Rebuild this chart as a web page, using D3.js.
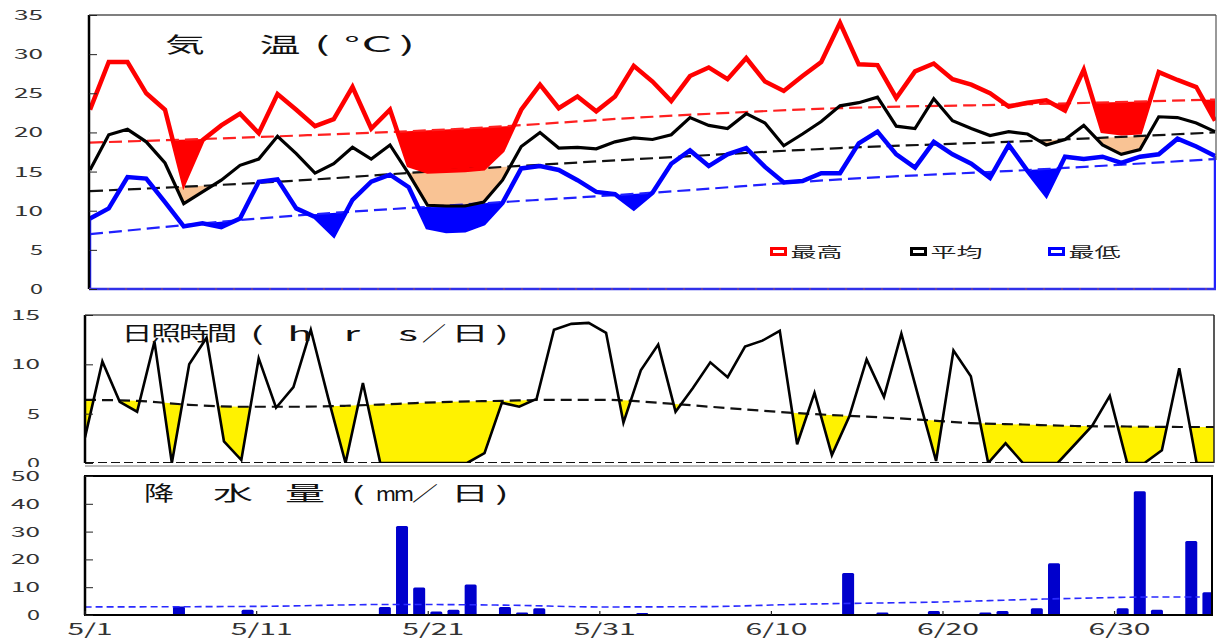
<!DOCTYPE html>
<html>
<head>
<meta charset="utf-8">
<script src="https://cdn.jsdelivr.net/npm/d3@7"></script>
<style>
  body { margin: 0; background: #fff; }
</style>
</head>
<body>
<svg id="chart" width="1217" height="640"></svg>
<script>
// values
// temperature panel: 61 days (5/1 - 6/30)
const maxT = [22.9, 29.0, 29.0, 25.0, 22.9, 13.5, 19.0, 20.9, 22.4, 19.9,
  24.9, 22.9, 20.8, 21.7, 25.8, 20.5, 22.9, 15.8, 15.0, 15.1,
  15.2, 15.4, 17.7, 22.9, 26.1, 23.1, 24.6, 22.7, 24.6, 28.5,
  26.5, 24.0, 27.2, 28.3, 26.8, 29.5, 26.5, 25.3, 27.2, 29.0,
  34.0, 28.7, 28.6, 24.4, 27.8, 28.8, 26.8, 26.1, 25.0, 23.3,
  23.8, 24.1, 22.8, 28.0, 20.2, 19.9, 20.0, 27.7, 26.7, 25.8, 21.5];
const meanT = [15.2, 19.7, 20.4, 18.8, 16.1, 10.9, 12.4, 13.9, 15.8, 16.6,
  19.5, 17.3, 14.8, 16.0, 18.1, 16.6, 18.4, 14.7, 10.7, 10.6,
  10.6, 11.1, 13.9, 18.2, 20.0, 18.0, 18.1, 17.9, 18.8, 19.3,
  19.1, 19.7, 21.9, 20.9, 20.5, 22.4, 21.2, 18.3, 19.8, 21.4,
  23.4, 23.8, 24.5, 20.8, 20.5, 24.3, 21.5, 20.5, 19.6, 20.1,
  19.8, 18.4, 19.1, 20.9, 18.4, 17.2, 17.8, 22.0, 21.9, 21.2, 20.1];
const minT = [9.0, 10.3, 14.3, 14.1, 11.1, 8.0, 8.4, 7.9, 9.0, 13.7,
  14.0, 10.3, 9.2, 6.9, 11.4, 13.7, 14.6, 13.0, 7.9, 7.4,
  7.5, 8.4, 11.0, 15.4, 15.7, 15.2, 13.9, 12.4, 12.1, 10.3,
  12.3, 16.0, 17.7, 15.7, 17.2, 18.0, 15.6, 13.6, 13.8, 14.8,
  14.8, 18.6, 20.1, 17.2, 15.5, 18.8, 17.2, 16.0, 14.2, 18.4,
  15.1, 12.0, 16.9, 16.6, 16.9, 16.1, 16.9, 17.2, 19.2, 18.2, 17.0];
const tNormDays = [0, 10, 20, 30, 40, 50, 60];
const normMax = [18.7, 19.5, 20.5, 22.0, 23.1, 23.6, 24.2];
const normMean = [12.5, 13.7, 15.3, 16.7, 18.0, 18.9, 20.0];
const normMin = [7.0, 9.2, 10.8, 12.3, 14.0, 15.2, 16.6];

// sunshine panel: 66 days
const sun = [2.6, 10.3, 6.2, 5.2, 12.3, 0, 10.0, 12.7, 2.2, 0.3,
  10.6, 5.6, 7.7, 13.5, 6.6, 0, 8.1, 0, 0, 0,
  0, 0, 0, 1.0, 6.1, 5.7, 6.5, 13.5, 14.1, 14.2,
  13.2, 4.1, 9.4, 12.0, 5.2, 7.6, 10.2, 8.7, 11.8, 12.4,
  13.4, 1.9, 7.1, 0.8, 4.7, 10.5, 6.7, 13.1, 6.6, 0.2,
  11.4, 8.8, 0, 2.0, 0, 0, 0, 1.9, 3.8, 6.8,
  0, 0, 1.3, 9.6, 0, 0];
const sunNormDays = [0, 3, 6, 9, 12, 15, 18, 21, 24, 27, 30, 33, 36, 39, 42, 45, 48, 51, 54, 57, 60, 63, 65];
const sunNorm = [6.4, 6.3, 5.9, 5.7, 5.7, 5.8, 6.0, 6.2, 6.3, 6.4, 6.4, 6.1, 5.7, 5.3, 4.95, 4.7, 4.4, 4.05, 3.9, 3.75, 3.7, 3.65, 3.65];

// precipitation panel: 66 days
const rain = [0, 0, 0, 0, 0, 3.1, 0, 0, 0, 1.9,
  0, 0, 0, 0, 0, 0, 0, 2.9, 32.0, 9.9,
  1.3, 1.9, 11.0, 0, 2.9, 0.9, 2.4, 0, 0, 0,
  0, 0, 0.7, 0, 0, 0, 0, 0, 0, 0,
  0, 0, 0, 0, 15.1, 0, 0.9, 0, 0, 1.4,
  0, 0, 0.9, 1.4, 0, 2.4, 18.6, 0, 0, 0,
  2.4, 44.5, 1.9, 0, 26.6, 8.2];
const rainNormDays = [0, 10, 18, 25, 30, 36, 42, 50, 57, 63, 65];
const rainNorm = [2.9, 3.1, 3.8, 3.5, 2.9, 3.0, 3.9, 4.7, 5.9, 6.5, 6.5];

const tickDays = [0, 10, 20, 30, 40, 50, 60];
const tickLabels = ["5/1", "5/11", "5/21", "5/31", "6/10", "6/20", "6/30"];
const tempTicks = [0, 5, 10, 15, 20, 25, 30, 35];
const sunTicks = [0, 5, 10, 15];
const rainTicks = [0, 10, 20, 30, 40, 50];
const legendItems = [
  { name: "最高", color: "#ff0000" },
  { name: "平均", color: "#000000" },
  { name: "最低", color: "#0000ff" },
];

const FONT = "'Noto Sans CJK JP', 'Noto Sans', sans-serif";
const svg = d3.select("#chart");
const defs = svg.append("defs");

// scales
const xT = d3.scaleLinear().domain([0, 60]).range([90, 1215]);
const yT = d3.scaleLinear().domain([0, 35]).range([289, 15]);
const xS = d3.scaleLinear().domain([0, 65]).range([85, 1214]);
const yS = d3.scaleLinear().domain([0, 15]).range([463, 315]);
const xR = d3.scaleLinear().domain([0, 66]).range([84.6, 1217]);
const yR = d3.scaleLinear().domain([0, 50]).range([615, 476]);

function panelClip(id, x0, y0, x1, y1) {
  defs.append("clipPath").attr("id", id)
    .append("rect").attr("x", x0).attr("y", y0).attr("width", x1 - x0).attr("height", y1 - y0);
}
panelClip("clipT", 89, 15, 1216, 289);
panelClip("clipS", 85, 315, 1214, 463);
panelClip("clipR", 85, 476, 1212, 615);

// area between a series and its normal, where the series is below it
function deficit(g, x, vals, y, nDays, nVals, color, id) {
  defs.append("clipPath").attr("id", id)
    .append("path")
    .attr("d", d3.area()
      .x((d, i) => x(nDays[i]))
      .y0(y(0))
      .y1(d => y(d))
      .curve(d3.curveMonotoneX)(nVals));
  g.append("path")
    .attr("clip-path", `url(#${id})`)
    .attr("fill", color)
    .attr("d", d3.area()
      .x((d, i) => x(i))
      .y0(y.range()[1])
      .y1(d => y(d))(vals));
}

function normalLine(g, x, y, nDays, nVals, color, width, dash) {
  g.append("path")
    .attr("fill", "none")
    .attr("stroke", color)
    .attr("stroke-width", width)
    .attr("stroke-dasharray", dash)
    .attr("d", d3.line()
      .x((d, i) => x(nDays[i]))
      .y(d => y(d))
      .curve(d3.curveMonotoneX)(nVals));
}

function seriesLine(g, x, y, vals, color, width) {
  g.append("path")
    .attr("fill", "none")
    .attr("stroke", color)
    .attr("stroke-width", width)
    .attr("stroke-linejoin", "miter")
    .attr("d", d3.line().x((d, i) => x(i)).y(d => y(d))(vals));
}

function yAxis(scale, ticks, xPos, labelRight) {
  const ax = svg.append("g")
    .attr("transform", `translate(${xPos},0)`)
    .call(d3.axisLeft(scale).tickValues(ticks).tickSizeInner(-8).tickSizeOuter(0).tickFormat(d3.format("d")));
  ax.select(".domain").remove();
  ax.selectAll(".tick line").attr("stroke", "#222").attr("stroke-width", 1);
  ax.selectAll(".tick text")
    .attr("x", labelRight - xPos)
    .attr("font-size", 14)
    .attr("font-family", FONT)
    .attr("fill", "#333")
    .attr("textLength", d => String(d).length === 1 ? 13 : 29)
    .attr("lengthAdjust", "spacingAndGlyphs");
  return ax;
}

function charRow(items, baseline, size) {
  items.forEach(([ch, cx, sx]) => {
    svg.append("text")
      .attr("transform", `translate(${cx},${baseline}) scale(${sx},1)`)
      .attr("text-anchor", "middle")
      .attr("font-size", size)
      .attr("font-family", FONT)
      .attr("fill", "#111")
      .text(ch);
  });
}

// ---------------- temperature ----------------
const gT = svg.append("g").attr("clip-path", "url(#clipT)");
deficit(gT, xT, maxT, yT, tNormDays, normMax, "#ff0000", "defMax");
deficit(gT, xT, meanT, yT, tNormDays, normMean, "#f9c394", "defMean");
deficit(gT, xT, minT, yT, tNormDays, normMin, "#0000ff", "defMin");
normalLine(gT, xT, yT, tNormDays, normMax, "#ff2020", 2.2, "13,6");
normalLine(gT, xT, yT, tNormDays, normMean, "#111", 2.2, "13,6");
normalLine(gT, xT, yT, tNormDays, normMin, "#2020ff", 2.2, "13,6");
seriesLine(gT, xT, yT, maxT, "#ff0000", 4.5);
seriesLine(gT, xT, yT, meanT, "#000", 3.2);
seriesLine(gT, xT, yT, minT, "#0000ff", 4.5);

// blue drop lines at both ends of the min series
[0, minT.length - 1].forEach(i => {
  gT.append("line")
    .attr("x1", xT(i)).attr("x2", xT(i))
    .attr("y1", yT(minT[i])).attr("y2", yT(0))
    .attr("stroke", "#2020ff").attr("stroke-width", 2.5);
});

// frame
svg.append("line").attr("x1", 89).attr("x2", 1216).attr("y1", 15).attr("y2", 15).attr("stroke", "#555").attr("stroke-width", 1.5);
svg.append("line").attr("x1", 1216).attr("x2", 1216).attr("y1", 15).attr("y2", 160).attr("stroke", "#555").attr("stroke-width", 1.2);
svg.append("line").attr("x1", 89).attr("x2", 89).attr("y1", 15).attr("y2", 289).attr("stroke", "#000").attr("stroke-width", 2.5);
svg.append("line").attr("x1", 89).attr("x2", 1216).attr("y1", 289).attr("y2", 289).attr("stroke", "#3030e8").attr("stroke-width", 2.5);
svg.append("line").attr("x1", 89).attr("x2", 1216).attr("y1", 289).attr("y2", 289).attr("stroke", "#a05050").attr("stroke-width", 1).attr("stroke-dasharray", "2,16");

yAxis(yT, tempTicks, 89, 43);

charRow([["気", 185, 1.9], ["温", 280, 1.95], ["(", 322, 2.2], ["°", 352, 2.0], ["C", 377, 2.3], [")", 407, 2.2]], 51.5, 21);

// legend
legendItems.forEach((d, i) => {
  const lx = [771.5, 911.5, 1049.5][i];
  svg.append("rect")
    .attr("x", lx).attr("y", 248.5).attr("width", 14).attr("height", 6)
    .attr("fill", "#fff").attr("stroke", d.color).attr("stroke-width", 3);
  svg.append("text")
    .attr("x", lx + 19).attr("y", 257)
    .attr("font-size", 14).attr("font-family", FONT).attr("fill", "#222")
    .attr("textLength", 52).attr("lengthAdjust", "spacingAndGlyphs")
    .text(d.name);
});

// ---------------- sunshine ----------------
const gS = svg.append("g").attr("clip-path", "url(#clipS)");
deficit(gS, xS, sun, yS, sunNormDays, sunNorm, "#fff200", "defSun");
normalLine(gS, xS, yS, sunNormDays, sunNorm, "#111", 2.2, "11,6");
gS.append("line").attr("x1", 85).attr("x2", 1214).attr("y1", yS(0)).attr("y2", yS(0))
  .attr("stroke", "#111").attr("stroke-width", 2).attr("stroke-dasharray", "9,4");
seriesLine(gS, xS, yS, sun, "#000", 2.6);

svg.append("line").attr("x1", 85).attr("x2", 1214).attr("y1", 315).attr("y2", 315).attr("stroke", "#555").attr("stroke-width", 1.5);
svg.append("line").attr("x1", 1214).attr("x2", 1214).attr("y1", 315).attr("y2", 463).attr("stroke", "#222").attr("stroke-width", 1.5);
svg.append("line").attr("x1", 85).attr("x2", 85).attr("y1", 315).attr("y2", 463).attr("stroke", "#000").attr("stroke-width", 2.5);

yAxis(yS, sunTicks, 85, 40);

charRow([["日", 137, 1.55], ["照", 166, 1.5], ["時", 194, 1.5], ["間", 222, 1.5],
  ["(", 257, 2.0], ["h", 300, 2.1], ["r", 352, 2.1], ["s", 408, 2.1],
  ["／", 434, 1.2], ["日", 470, 1.9], [")", 502, 2.0]], 341, 20);

// ---------------- precipitation ----------------
svg.append("rect").attr("x", 0).attr("y", 467).attr("width", 1217).attr("height", 173).attr("fill", "#fff");
svg.append("line").attr("x1", 85).attr("x2", 1214).attr("y1", 466).attr("y2", 466).attr("stroke", "#777").attr("stroke-width", 1);

const gR = svg.append("g").attr("clip-path", "url(#clipR)");
gR.selectAll("rect.bar")
  .data(rain.map((v, i) => ({ i, v })).filter(d => d.v > 0))
  .join("rect")
  .attr("class", "bar")
  .attr("x", d => xR(d.i + 0.5) - 6)
  .attr("width", 12)
  .attr("y", d => yR(d.v))
  .attr("height", d => yR(0) - yR(d.v))
  .attr("rx", 1.5)
  .attr("fill", "#0000cc");
gR.append("path")
  .attr("fill", "none")
  .attr("stroke", "#2a2aff")
  .attr("stroke-width", 1.6)
  .attr("stroke-dasharray", "7,4")
  .attr("d", d3.line()
    .x((d, i) => xR(rainNormDays[i]))
    .y(d => yR(d))
    .curve(d3.curveMonotoneX)(rainNorm));

svg.append("rect").attr("x", 85).attr("y", 476).attr("width", 1127).attr("height", 139)
  .attr("fill", "none").attr("stroke", "#000").attr("stroke-width", 2);
svg.append("line").attr("x1", 85).attr("x2", 85).attr("y1", 476).attr("y2", 615).attr("stroke", "#000").attr("stroke-width", 2.5);

yAxis(yR, rainTicks, 85, 40);

const xAx = svg.append("g")
  .attr("transform", "translate(0,615)")
  .call(d3.axisBottom(xR).tickValues(tickDays).tickSizeInner(-4).tickSizeOuter(0)
    .tickFormat((d, i) => tickLabels[i]));
xAx.select(".domain").remove();
xAx.selectAll(".tick line").attr("stroke", "#222").attr("stroke-width", 1.2);
xAx.selectAll(".tick text")
  .attr("dx", 5)
  .attr("y", 20)
  .attr("dy", 0)
  .attr("font-size", 16)
  .attr("font-family", FONT)
  .attr("fill", "#333")
  .attr("textLength", (d, i) => tickLabels[i].length === 3 ? 45 : 62)
  .attr("lengthAdjust", "spacingAndGlyphs");

charRow([["降", 159, 1.5], ["水", 233, 2.0], ["量", 305, 2.0],
  ["(", 358, 2.0], ["m", 386, 1.1], ["m", 404, 1.1],
  ["／", 425, 1.3], ["日", 470, 1.9], [")", 502, 2.0]], 501, 20);
</script>
</body>
</html>
